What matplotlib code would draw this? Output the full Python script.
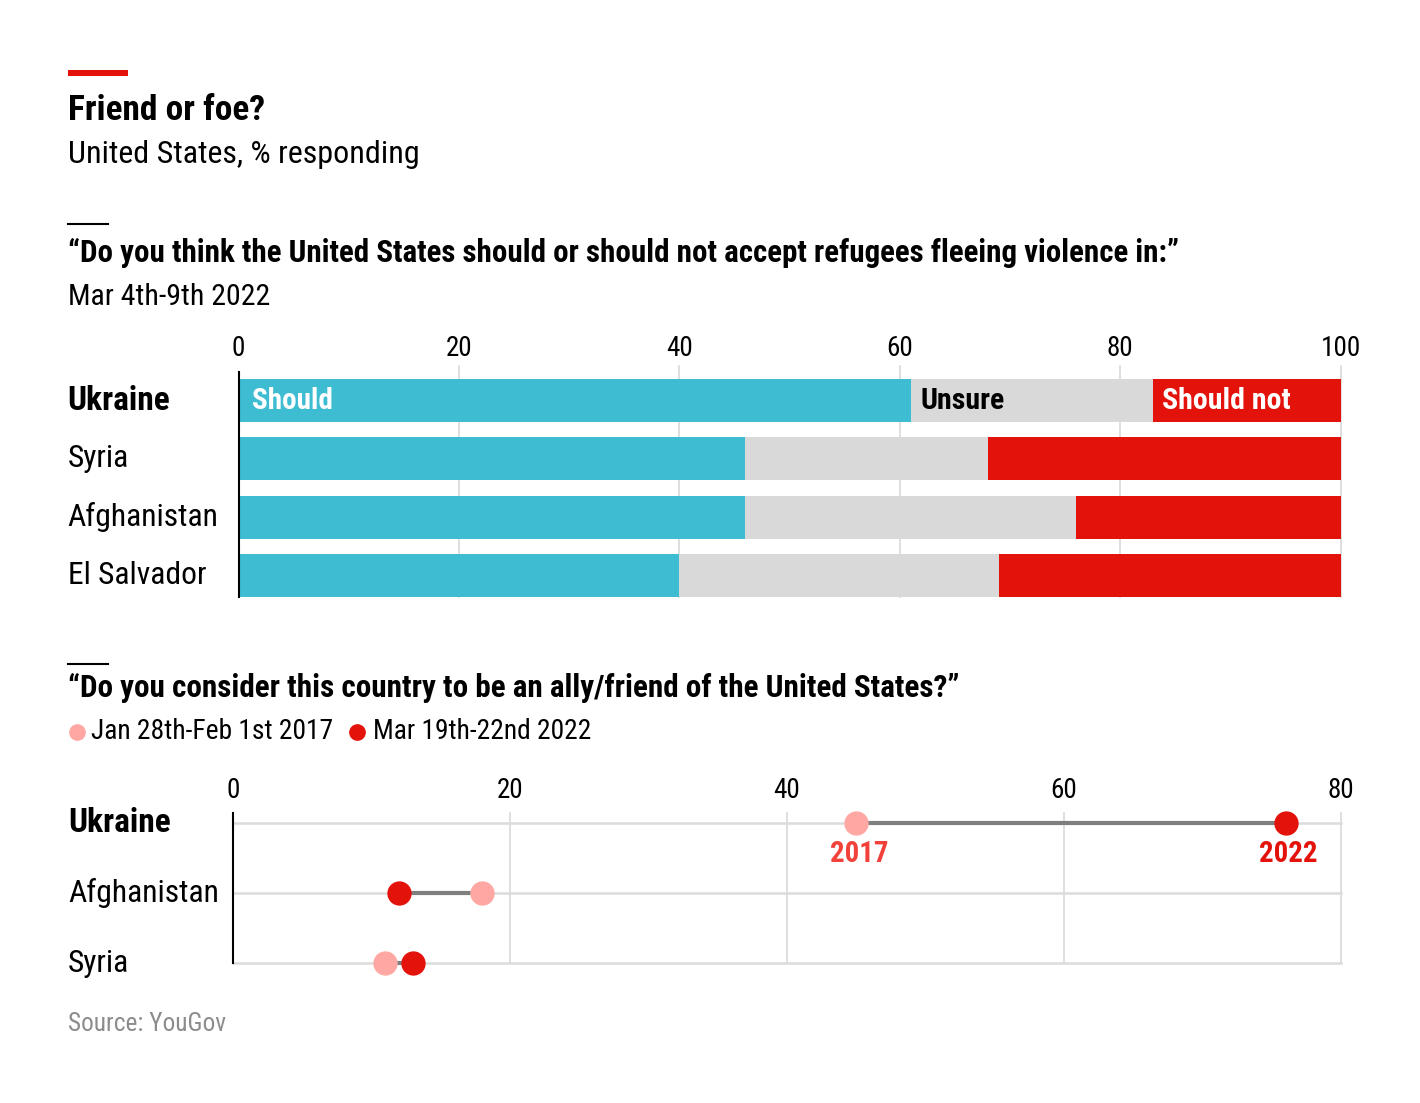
import matplotlib
matplotlib.use("Agg")
import matplotlib.pyplot as plt
from matplotlib import font_manager
from matplotlib.lines import Line2D
from matplotlib.patches import Rectangle

# --- data ---
countries_top = ["Ukraine", "Syria", "Afghanistan", "El Salvador"]
should = [61, 46, 46, 40]
unsure = [22, 22, 30, 29]
should_not = [17, 32, 24, 31]

countries_bottom = ["Ukraine", "Afghanistan", "Syria"]
ally_2017 = [45, 18, 11]
ally_2022 = [76, 12, 13]

BLUE = "#3EBCD2"
GREY = "#D9D9D9"
RED = "#E3120B"
PINK = "#FFA8A3"
GRID = "#DCDCDC"

names = {f.name for f in font_manager.fontManager.ttflist}
FONT = "DejaVu Sans"
for cand in ["Roboto Condensed", "Liberation Sans Narrow", "Open Sans Condensed", "Roboto"]:
    if cand in names:
        FONT = cand
        break
plt.rcParams["font.family"] = [FONT, "DejaVu Sans"]

W, H = 1420, 1103
fig = plt.figure(figsize=(W / 100, H / 100), dpi=100)


def fx(px):
    return px / W


def fy(py):
    return 1 - py / H


# header
fig.add_artist(Rectangle((fx(68), fy(76)), fx(128) - fx(68), fy(70) - fy(76),
                         transform=fig.transFigure, color=RED, lw=0))
fig.text(fx(68), fy(120), "Friend or foe?", fontsize=25.5, fontweight="bold", va="baseline")
fig.text(fx(68), fy(163), "United States, % responding", fontsize=23, va="baseline")

fig.add_artist(Line2D([fx(68), fx(108)], [fy(224), fy(224)], transform=fig.transFigure,
                      color="black", lw=1.5))
fig.text(fx(68), fy(262),
         "\u201cDo you think the United States should or should not accept refugees fleeing violence in:\u201d",
         fontsize=22.3, fontweight="bold", va="baseline")
fig.text(fx(68), fy(305), "Mar 4th-9th 2022", fontsize=21.5, va="baseline")

# --- top chart: stacked bars ---
ax1 = fig.add_axes([fx(238.5), fy(597), fx(1340.5) - fx(238.5), fy(372) - fy(597)])
ypos = list(range(len(countries_top)))
left2 = [a + b for a, b in zip(should, unsure)]
ax1.barh(ypos, should, height=0.74, color=BLUE, zorder=2)
ax1.barh(ypos, unsure, left=should, height=0.74, color=GREY, zorder=2)
ax1.barh(ypos, should_not, left=left2, height=0.74, color=RED, zorder=2)
ax1.set_xlim(0, 100)
ax1.set_ylim(3.37, -0.49)
ax1.set_xticks([0, 20, 40, 60, 80, 100])
ax1.xaxis.tick_top()
ax1.tick_params(axis="x", length=0, labelsize=19.5, pad=7)
ax1.set_yticks([])
for s in ["top", "right", "bottom"]:
    ax1.spines[s].set_visible(False)
ax1.spines["left"].set_linewidth(1.5)
ax1.spines["left"].set_zorder(3)
for xv in [20, 40, 60, 80, 100]:
    ax1.plot([xv, xv], [3.37, -0.6], color=GRID, lw=1.3, zorder=0, clip_on=False)

ax1.text(1.2, 0, "Should", color="white", fontsize=21, fontweight="bold", va="center")
ax1.text(should[0] + 0.9, 0, "Unsure", color="black", fontsize=21.5, fontweight="bold", va="center")
ax1.text(left2[0] + 0.8, 0, "Should not", color="white", fontsize=21.5, fontweight="bold", va="center")

for i, c in enumerate(countries_top):
    bold = i == 0
    ax1.text(-0.155, i, c, transform=ax1.get_yaxis_transform(), fontsize=24 if bold else 22.8,
             fontweight="bold" if bold else "normal", va="center", ha="left")

# --- bottom header ---
fig.add_artist(Line2D([fx(68), fx(108)], [fy(664), fy(664)], transform=fig.transFigure,
                      color="black", lw=1.5))
fig.text(fx(68), fy(697), "\u201cDo you consider this country to be an ally/friend of the United States?\u201d",
         fontsize=22.4, fontweight="bold", va="baseline")
fig.add_artist(Line2D([fx(77)], [fy(732)], transform=fig.transFigure, marker="o", ms=11,
                      color=PINK, lw=0))
fig.text(fx(91), fy(739), "Jan 28th-Feb 1st 2017", fontsize=19.8, va="baseline")
fig.add_artist(Line2D([fx(357)], [fy(732)], transform=fig.transFigure, marker="o", ms=11,
                      color=RED, lw=0))
fig.text(fx(373), fy(739), "Mar 19th-22nd 2022", fontsize=19.8, va="baseline")

# --- bottom chart: dumbbells ---
ax2 = fig.add_axes([fx(233), fy(963.3), fx(1341) - fx(233), fy(812.7) - fy(963.3)])
ax2.set_xlim(0, 80)
ax2.set_ylim(2, -0.142)
ax2.set_xticks([0, 20, 40, 60, 80])
ax2.xaxis.tick_top()
ax2.tick_params(axis="x", length=0, labelsize=19.5, pad=6)
ax2.set_yticks([])
for s in ["top", "right", "bottom"]:
    ax2.spines[s].set_visible(False)
ax2.spines["left"].set_linewidth(1.5)
for xv in [20, 40, 60, 80]:
    ax2.axvline(xv, color=GRID, lw=1.3, zorder=0, clip_on=False)
for i in range(len(countries_bottom)):
    ax2.axhline(i, color=GRID, lw=1.8, zorder=0, clip_on=False)

for i, c in enumerate(countries_bottom):
    ax2.plot([ally_2017[i], ally_2022[i]], [i, i], color="#7F7F7F", lw=3, zorder=2,
             solid_capstyle="butt", clip_on=False)
    ax2.plot(ally_2017[i], i, "o", ms=16.5, color=PINK, zorder=3, clip_on=False)
    ax2.plot(ally_2022[i], i, "o", ms=16.5, color=RED, zorder=3, clip_on=False)
    bold = i == 0
    ax2.text(-0.149, i, c, transform=ax2.get_yaxis_transform(), fontsize=24 if bold else 22.8,
             fontweight="bold" if bold else "normal", va="center", ha="left")

ax2.text(ally_2017[0] + 0.2, 0.56, "2017", color="#F2403A", fontsize=20.8, fontweight="bold",
         ha="center", va="baseline")
ax2.text(ally_2022[0] + 0.2, 0.56, "2022", color=RED, fontsize=20.8, fontweight="bold",
         ha="center", va="baseline")

fig.text(fx(68), fy(1031), "Source: YouGov", fontsize=18.3, color="#8C8C8C", va="baseline")

fig.savefig("out.png", dpi=100)
